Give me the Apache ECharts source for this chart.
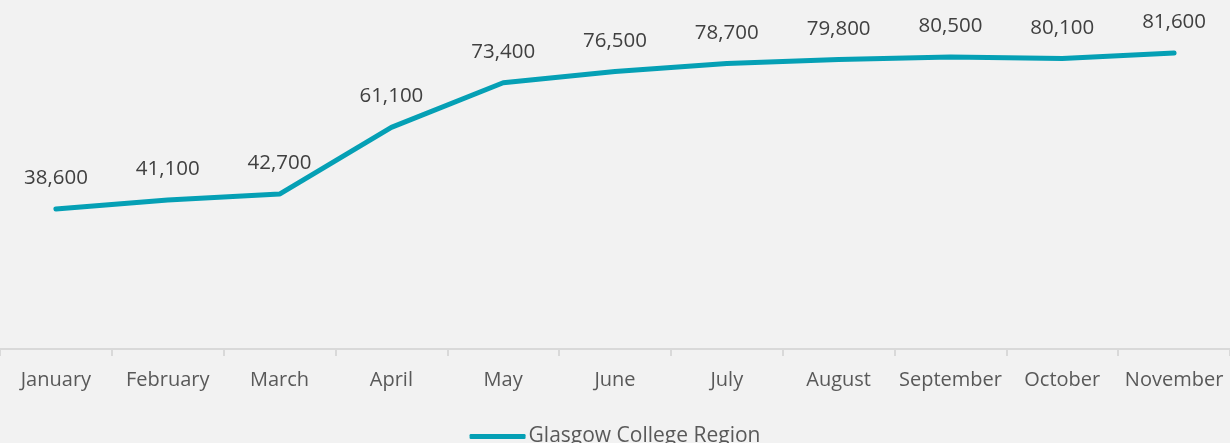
<!DOCTYPE html>
<html><head><meta charset="utf-8">
<script src="https://cdn.jsdelivr.net/npm/echarts@6/dist/echarts.min.js"></script>
<style>html,body{margin:0;padding:0;background:#f2f2f2}#c{width:1230px;height:443px}</style>
</head><body><div id="c"></div>
<script>
const categories = ['January','February','March','April','May','June','July','August','September','October','November'];
const seriesName = 'Glasgow College Region';
const values = [38600,41100,42700,61100,73400,76500,78700,79800,80500,80100,81600];
const chart = echarts.init(document.getElementById('c'));
const font = 'Open Sans';
const teal = '#05a0b5';
chart.setOption({
  backgroundColor:'#f2f2f2',
  animation:false,
  grid:{left:-3,right:-2,top:22.5,bottom:94,containLabel:false},
  legend:{bottom:-9,left:'center',itemWidth:56,itemHeight:5,icon:'roundRect',itemGap:4,
    textStyle:{fontFamily:font,fontSize:21,color:'#595959',padding:[0,0,0,-2]},
    data:[{name:seriesName,itemStyle:{color:teal,opacity:1}}]},
  xAxis:{type:'category',data:categories,boundaryGap:true,
    axisLine:{lineStyle:{color:'#d9d9d9',width:2}},
    axisTick:{show:true,length:7,lineStyle:{color:'#d9d9d9',width:2}},
    axisLabel:{interval:0,fontFamily:font,fontSize:20,color:'#595959',margin:21}},
  yAxis:{type:'value',min:0,max:90000,show:false,splitLine:{show:false}},
  series:[{name:seriesName,type:'line',data:values,symbol:'circle',symbolSize:0.5,showSymbol:true,
    lineStyle:{color:teal,width:5,cap:'round'},itemStyle:{color:teal},
    label:{show:true,position:'top',distance:20,fontFamily:font,fontSize:20.5,color:'#404040',
      formatter:p=>p.value.toLocaleString('en-US')}}]
});
</script></body></html>
